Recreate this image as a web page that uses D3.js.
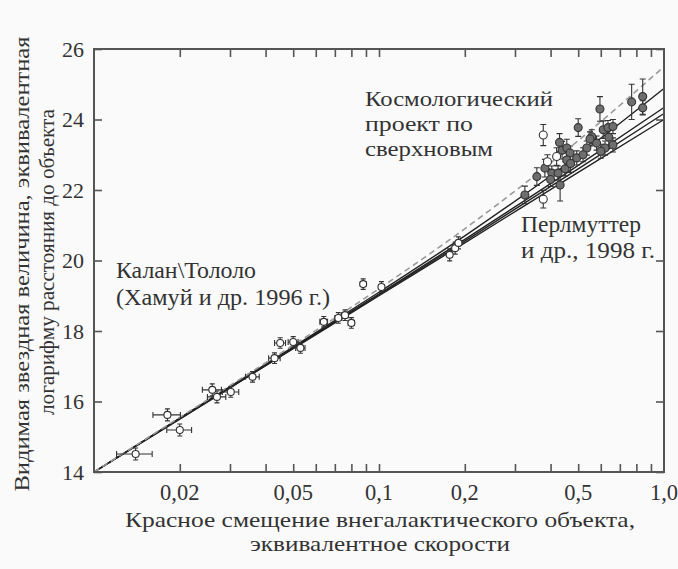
<!DOCTYPE html>
<html>
<head>
<meta charset="utf-8">
<script src="https://cdn.jsdelivr.net/npm/d3@7"></script>
<style>
  html, body { margin: 0; padding: 0; background: #fafafa; }
  svg { display: block; }
  text { font-family: "Liberation Serif", "Times New Roman", serif; fill: #333; }
</style>
</head>
<body>
<svg id="chart"></svg>
<script>
// Calan/Tololo (low redshift, open circles)
const calanZ = [0.0140, 0.0181, 0.0200, 0.0260, 0.0270, 0.0302, 0.0360, 0.0430, 0.0450, 0.0500, 0.0530, 0.0640, 0.0720, 0.0760, 0.0800, 0.0880, 0.1020, 0.1770, 0.1850, 0.1900]
const calanM = [14.51, 15.62, 15.19, 16.33, 16.13, 16.27, 16.70, 17.23, 17.66, 17.69, 17.52, 18.26, 18.37, 18.45, 18.23, 19.33, 19.25, 20.16, 20.35, 20.50]
const calanZErr = [0.002, 0.002, 0.002, 0.002, 0.002, 0.002, 0.002, 0.002, 0.002, 0.002, 0.002, 0.002, 0.002, 0.002, 0.002, 0.002, 0.002, 0.002, 0.002, 0.002]
const calanMErr = [0.17, 0.17, 0.17, 0.17, 0.17, 0.15, 0.15, 0.15, 0.15, 0.15, 0.15, 0.15, 0.15, 0.15, 0.15, 0.15, 0.15, 0.17, 0.17, 0.17]

// Supernova Cosmology Project (high redshift)
const scpZ = [0.325, 0.377, 0.377, 0.358, 0.382, 0.404, 0.432, 0.425, 0.439, 0.456, 0.468, 0.456, 0.494, 0.500, 0.536, 0.558, 0.580, 0.596, 0.612, 0.621, 0.636, 0.662, 0.662, 0.770, 0.842, 0.842, 0.400, 0.450, 0.470, 0.420, 0.520, 0.550, 0.600, 0.640, 0.390, 0.430]
const scpM = [21.86, 21.74, 23.56, 22.38, 22.62, 22.48, 22.14, 22.48, 23.13, 23.19, 23.05, 22.85, 22.91, 23.77, 23.19, 23.51, 23.33, 24.30, 23.71, 23.19, 23.77, 23.80, 23.28, 24.50, 24.65, 24.33, 22.30, 22.60, 22.75, 22.95, 23.00, 23.45, 23.10, 23.50, 22.80, 23.35]
const scpMErr = [0.25, 0.25, 0.30, 0.25, 0.25, 0.20, 0.45, 0.20, 0.25, 0.25, 0.20, 0.20, 0.20, 0.25, 0.20, 0.20, 0.20, 0.35, 0.25, 0.20, 0.20, 0.20, 0.20, 0.50, 0.50, 0.20, 0.20, 0.20, 0.25, 0.25, 0.20, 0.20, 0.20, 0.25, 0.20, 0.25]
const scpOpen = [false, true, true, false, false, false, false, false, false, false, false, false, false, false, false, false, false, false, false, false, false, false, false, false, false, false, false, false, false, true, false, false, false, false, true, false]

// model curves
const curveZ = [0.01, 0.02, 0.05, 0.1, 0.2, 0.5, 1.0]
const curveDashed = [14, 15.55, 17.60, 19.20, 20.90, 23.40, 25.50]
const curveOpen = [14, 15.53, 17.55, 19.10, 20.70, 22.98, 24.88]
const curveFlat = [14, 15.52, 17.52, 19.05, 20.60, 22.70, 24.34]
const curveMid = [14, 15.51, 17.51, 19.03, 20.55, 22.60, 24.17]
const curveClosed = [14, 15.50, 17.50, 19.00, 20.50, 22.50, 24.00]

// axis ticks
const xTicks = [0.02, 0.03, 0.04, 0.05, 0.06, 0.07, 0.08, 0.09, 0.1, 0.2, 0.3, 0.4, 0.5, 0.6, 0.7, 0.8, 0.9]
const xLabelValues = [0.02, 0.05, 0.1, 0.2, 0.5, 1.0]
const xLabels = ["0,02", "0,05", "0,1", "0,2", "0,5", "1,0"]
const yTicks = [14, 16, 18, 20, 22, 24, 26]

const width = 678
const height = 569

const svg = d3.select("#chart")
    .attr("width", width)
    .attr("height", height)

svg.append("rect")
    .attr("width", width)
    .attr("height", height)
    .attr("fill", "#fafafa")

const x = d3.scaleLog().domain([0.01, 1]).range([94, 664])
const y = d3.scaleLinear().domain([14, 26]).range([472, 49])

const axisColor = "#555"

// ticks (inward on all four sides)
svg.append("g")
    .attr("transform", "translate(0,472)")
    .call(d3.axisBottom(x).tickValues(xTicks).tickSize(-8).tickFormat(""))
svg.append("g")
    .attr("transform", "translate(0,49)")
    .call(d3.axisTop(x).tickValues(xTicks).tickSize(-8).tickFormat(""))
svg.append("g")
    .attr("transform", "translate(94,0)")
    .call(d3.axisLeft(y).tickValues(yTicks).tickSize(-8).tickPadding(10).tickFormat(d => d))
svg.append("g")
    .attr("transform", "translate(664,0)")
    .call(d3.axisRight(y).tickValues(yTicks).tickSize(-8).tickFormat(""))

svg.selectAll(".domain").remove()
svg.selectAll(".tick line").attr("stroke", axisColor).attr("stroke-width", 1.6)
svg.selectAll(".tick text")
    .style("font-family", "'Liberation Serif', serif")
    .attr("font-size", 22)
    .attr("fill", "#333")

// x tick labels
svg.append("g").selectAll("text")
    .data(xLabelValues)
    .enter()
    .append("text")
    .attr("x", d => x(d))
    .attr("y", 500)
    .attr("text-anchor", "middle")
    .attr("font-size", 22.5)
    .text((d, i) => xLabels[i])

// model curves
const line = d3.line()
    .x(d => x(d[0]))
    .y(d => y(d[1]))
    .curve(d3.curveMonotoneX)

const solidCurves = [curveOpen, curveFlat, curveMid, curveClosed]
svg.append("g").selectAll("path")
    .data(solidCurves)
    .enter()
    .append("path")
    .attr("d", c => line(curveZ.map((z, i) => [z, c[i]])))
    .attr("fill", "none")
    .attr("stroke", "#222")
    .attr("stroke-width", 1.4)

svg.append("path")
    .attr("d", line(curveZ.map((z, i) => [z, curveDashed[i]])))
    .attr("fill", "none")
    .attr("stroke", "#9a9a9a")
    .attr("stroke-width", 1.6)
    .attr("stroke-dasharray", "6,4")

// Calan/Tololo points
const calan = calanZ.map((z, i) => ({z: z, m: calanM[i], dz: calanZErr[i], dm: calanMErr[i]}))
const gc = svg.append("g")
    .attr("stroke", "#333")
    .attr("stroke-width", 1.1)

gc.selectAll(".hbar")
    .data(calan)
    .enter()
    .append("path")
    .attr("d", d => {
        const x0 = x(d.z - d.dz), x1 = x(d.z + d.dz), yy = y(d.m)
        return `M${x0},${yy}H${x1}M${x0},${yy - 3}V${yy + 3}M${x1},${yy - 3}V${yy + 3}`
    })
    .attr("fill", "none")
gc.selectAll(".vbar")
    .data(calan)
    .enter()
    .append("path")
    .attr("d", d => {
        const xx = x(d.z), y0 = y(d.m - d.dm), y1 = y(d.m + d.dm)
        return `M${xx},${y0}V${y1}M${xx - 2.5},${y0}H${xx + 2.5}M${xx - 2.5},${y1}H${xx + 2.5}`
    })
    .attr("fill", "none")
gc.selectAll("circle")
    .data(calan)
    .enter()
    .append("circle")
    .attr("cx", d => x(d.z))
    .attr("cy", d => y(d.m))
    .attr("r", 3.5)
    .attr("fill", "#fff")

// SCP points
const scp = scpZ.map((z, i) => ({z: z, m: scpM[i], dm: scpMErr[i], open: scpOpen[i]}))
const gs = svg.append("g")
    .attr("stroke", "#333")
    .attr("stroke-width", 1.1)

gs.selectAll("path")
    .data(scp)
    .enter()
    .append("path")
    .attr("d", d => {
        const xx = x(d.z), y0 = y(d.m - d.dm), y1 = y(d.m + d.dm)
        return `M${xx},${y0}V${y1}M${xx - 3},${y0}H${xx + 3}M${xx - 3},${y1}H${xx + 3}`
    })
    .attr("fill", "none")
gs.selectAll("circle")
    .data(scp)
    .enter()
    .append("circle")
    .attr("cx", d => x(d.z))
    .attr("cy", d => y(d.m))
    .attr("r", 4)
    .attr("fill", d => d.open ? "#fff" : "#6e6e6e")

// frame
svg.append("rect")
    .attr("x", 94)
    .attr("y", 49)
    .attr("width", 570)
    .attr("height", 423)
    .attr("fill", "none")
    .attr("stroke", axisColor)
    .attr("stroke-width", 2)

// annotations
const notes = [
    {x: 365, y: 106, s: 22, w: 188, t: "Космологический"},
    {x: 365, y: 131, s: 22, w: 108, t: "проект по"},
    {x: 365, y: 156, s: 22, w: 128, t: "сверхновым"},
    {x: 521, y: 232, s: 23, w: 120, t: "Перлмуттер"},
    {x: 521, y: 258, s: 23, w: 134, t: "и др., 1998 г."},
    {x: 116, y: 278, s: 23, w: 140, t: "Калан\\Тололо"},
    {x: 116, y: 305, s: 23, w: 214, t: "(Хамуй и др. 1996 г.)"}
]
svg.append("g").selectAll("text")
    .data(notes)
    .enter()
    .append("text")
    .attr("x", d => d.x)
    .attr("y", d => d.y)
    .attr("font-size", d => d.s)
    .attr("textLength", d => d.w)
    .attr("lengthAdjust", "spacingAndGlyphs")
    .text(d => d.t)

// axis titles
svg.append("text")
    .attr("x", 380)
    .attr("y", 527)
    .attr("text-anchor", "middle")
    .attr("font-size", 22)
    .attr("textLength", 510)
    .attr("lengthAdjust", "spacingAndGlyphs")
    .text("Красное смещение внегалактического объекта,")
svg.append("text")
    .attr("x", 380)
    .attr("y", 551)
    .attr("text-anchor", "middle")
    .attr("font-size", 22)
    .attr("textLength", 260)
    .attr("lengthAdjust", "spacingAndGlyphs")
    .text("эквивалентное скорости")

svg.append("text")
    .attr("transform", "translate(29,264) rotate(-90)")
    .attr("text-anchor", "middle")
    .attr("font-size", 22)
    .attr("textLength", 455)
    .attr("lengthAdjust", "spacingAndGlyphs")
    .text("Видимая звездная величина, эквивалентная")
svg.append("text")
    .attr("transform", "translate(54,262) rotate(-90)")
    .attr("text-anchor", "middle")
    .attr("font-size", 22)
    .attr("textLength", 306)
    .attr("lengthAdjust", "spacingAndGlyphs")
    .text("логарифму расстояния до объекта")
</script>
</body>
</html>
